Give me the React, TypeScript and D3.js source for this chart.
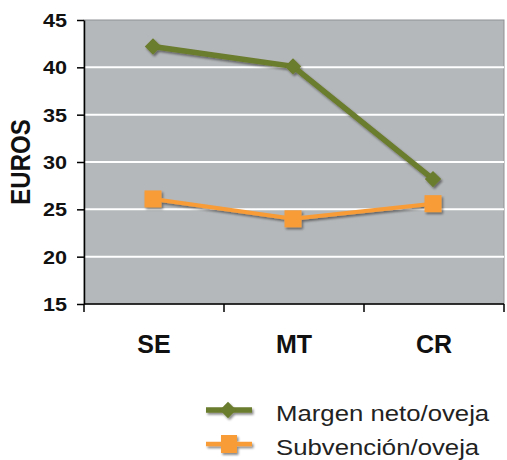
import { useEffect, useRef } from "react";
import * as d3 from "d3";

const categories = ["SE", "MT", "CR"];
const margenNeto = [42.2, 40.1, 28.2];
const subvencion = [26.1, 24.0, 25.6];
const yTicks = [15, 20, 25, 30, 35, 40, 45];

const GREEN = "#6b7b2d";
const ORANGE = "#f89c38";
const FONT = "Liberation Sans, Arial, sans-serif";

export default function App() {
  const svgRef = useRef<SVGSVGElement>(null);

  useEffect(() => {
    if (!svgRef.current) return;
    const svg = d3.select(svgRef.current);
    svg.selectAll("*").remove();

    const width = 507;
    const height = 460;
    const margin = { top: 20, right: 3, bottom: 156, left: 84 };
    const w = width - margin.left - margin.right;
    const h = height - margin.top - margin.bottom;

    svg.attr("viewBox", `0 0 ${width} ${height}`);

    const defs = svg.append("defs");
    const f = defs
      .append("filter")
      .attr("id", "shadow")
      .attr("x", "-20%")
      .attr("y", "-20%")
      .attr("width", "140%")
      .attr("height", "140%");
    f.append("feDropShadow")
      .attr("dx", 1.5)
      .attr("dy", 2)
      .attr("stdDeviation", 1.2)
      .attr("flood-color", "#000")
      .attr("flood-opacity", 0.45);

    const g = svg.append("g").attr("transform", `translate(${margin.left},${margin.top})`);

    const x = d3.scaleBand().domain(categories).range([0, w]).padding(0);
    const y = d3.scaleLinear().domain([15, 45]).range([h, 0]);

    // plot area
    g.append("rect")
      .attr("width", w)
      .attr("height", h)
      .attr("fill", "#b5b8ba")
      .attr("stroke", "#8e9193")
      .attr("stroke-width", 1);

    // gridlines
    g.selectAll(".grid")
      .data(yTicks.filter((t) => t > 15 && t < 45))
      .join("line")
      .attr("x1", 0)
      .attr("x2", w)
      .attr("y1", (d) => y(d))
      .attr("y2", (d) => y(d))
      .attr("stroke", "#ffffff")
      .attr("stroke-width", 2);

    // y axis
    const yAxis = g
      .append("g")
      .call(d3.axisLeft(y).tickValues(yTicks).tickSize(7).tickSizeOuter(0));
    yAxis.select(".domain").attr("stroke", "#000").attr("stroke-width", 1.5);
    yAxis.selectAll(".tick line").attr("stroke", "#000").attr("stroke-width", 1.5);
    yAxis.selectAll(".tick text").remove();
    yAxis
      .selectAll(".tick")
      .append("text")
      .attr("transform", "translate(-17,6.5) scale(1.2,1)")
      .attr("text-anchor", "end")
      .attr("fill", "#111")
      .style("font-family", FONT)
      .style("font-size", "18px")
      .style("font-weight", "bold")
      .text((d) => String(d));

    // x axis
    const xAxis = g.append("g").attr("transform", `translate(0,${h})`);
    xAxis
      .append("line")
      .attr("x1", 0)
      .attr("x2", w)
      .attr("stroke", "#000")
      .attr("stroke-width", 1.5);
    const bounds = [0, ...categories.map((c) => x(c)! + x.bandwidth())];
    xAxis
      .selectAll(".xt")
      .data(bounds)
      .join("line")
      .attr("x1", (d) => d)
      .attr("x2", (d) => d)
      .attr("y1", 0)
      .attr("y2", 8)
      .attr("stroke", "#000")
      .attr("stroke-width", 1.5);
    xAxis
      .selectAll(".xl")
      .data(categories)
      .join("text")
      .attr("x", (d) => x(d)! + x.bandwidth() / 2)
      .attr("y", 49)
      .attr("text-anchor", "middle")
      .attr("fill", "#111")
      .style("font-family", FONT)
      .style("font-size", "25px")
      .style("font-weight", "bold")
      .text((d) => d);

    // y label
    g.append("text")
      .attr("transform", `translate(-54,${h / 2}) rotate(-90) scale(1,1.15)`)
      .attr("text-anchor", "middle")
      .attr("fill", "#111")
      .style("font-family", FONT)
      .style("font-size", "24px")
      .style("font-weight", "bold")
      .text("EUROS");

    const cx = (c: string) => x(c)! + x.bandwidth() / 2 - 1;
    const line = d3
      .line<number>()
      .x((_, i) => cx(categories[i]))
      .y((d) => y(d));

    // green series
    const gs = g.append("g").attr("filter", "url(#shadow)");
    gs.append("path")
      .datum(margenNeto)
      .attr("d", line)
      .attr("fill", "none")
      .attr("stroke", GREEN)
      .attr("stroke-width", 5.5);
    gs.selectAll(".dia")
      .data(margenNeto)
      .join("path")
      .attr("d", d3.symbol(d3.symbolDiamond2, 170)())
      .attr("transform", (d, i) => `translate(${cx(categories[i])},${y(d)})`)
      .attr("fill", GREEN);

    // orange series
    const os = g.append("g").attr("filter", "url(#shadow)");
    os.append("path")
      .datum(subvencion)
      .attr("d", line)
      .attr("fill", "none")
      .attr("stroke", ORANGE)
      .attr("stroke-width", 4);
    os.selectAll(".sq")
      .data(subvencion)
      .join("rect")
      .attr("x", (_, i) => cx(categories[i]) - 8.5)
      .attr("y", (d) => y(d) - 8.5)
      .attr("width", 17)
      .attr("height", 17)
      .attr("fill", ORANGE);

    // legend
    const legend = svg.append("g").attr("transform", "translate(206,410)");
    const items = [
      { label: "Margen neto/oveja", color: GREEN, kind: "diamond" },
      { label: "Subvención/oveja", color: ORANGE, kind: "square" },
    ];
    items.forEach((it, i) => {
      const row = legend
        .append("g")
        .attr("transform", `translate(0,${i * 34})`)
        .attr("filter", "url(#shadow)");
      row
        .append("line")
        .attr("x1", 0)
        .attr("x2", 46)
        .attr("stroke", it.color)
        .attr("stroke-width", it.kind === "diamond" ? 5.5 : 4.5);
      if (it.kind === "diamond") {
        row
          .append("path")
          .attr("d", d3.symbol(d3.symbolDiamond2, 170)())
          .attr("transform", "translate(22,0)")
          .attr("fill", it.color);
      } else {
        row
          .append("rect")
          .attr("x", 15)
          .attr("y", -9)
          .attr("width", 16)
          .attr("height", 18)
          .attr("fill", it.color);
      }
      legend
        .append("text")
        .attr("transform", `translate(70,${i * 34 + 11}) scale(1.17,1)`)
        .attr("fill", "#222")
        .style("font-family", FONT)
        .style("font-size", "22px")
        .text(it.label);
    });
  }, []);

  return (
    <svg
      ref={svgRef}
      width={507}
      height={460}
      style={{ position: "absolute", left: 0, top: 0, display: "block" }}
    />
  );
}
